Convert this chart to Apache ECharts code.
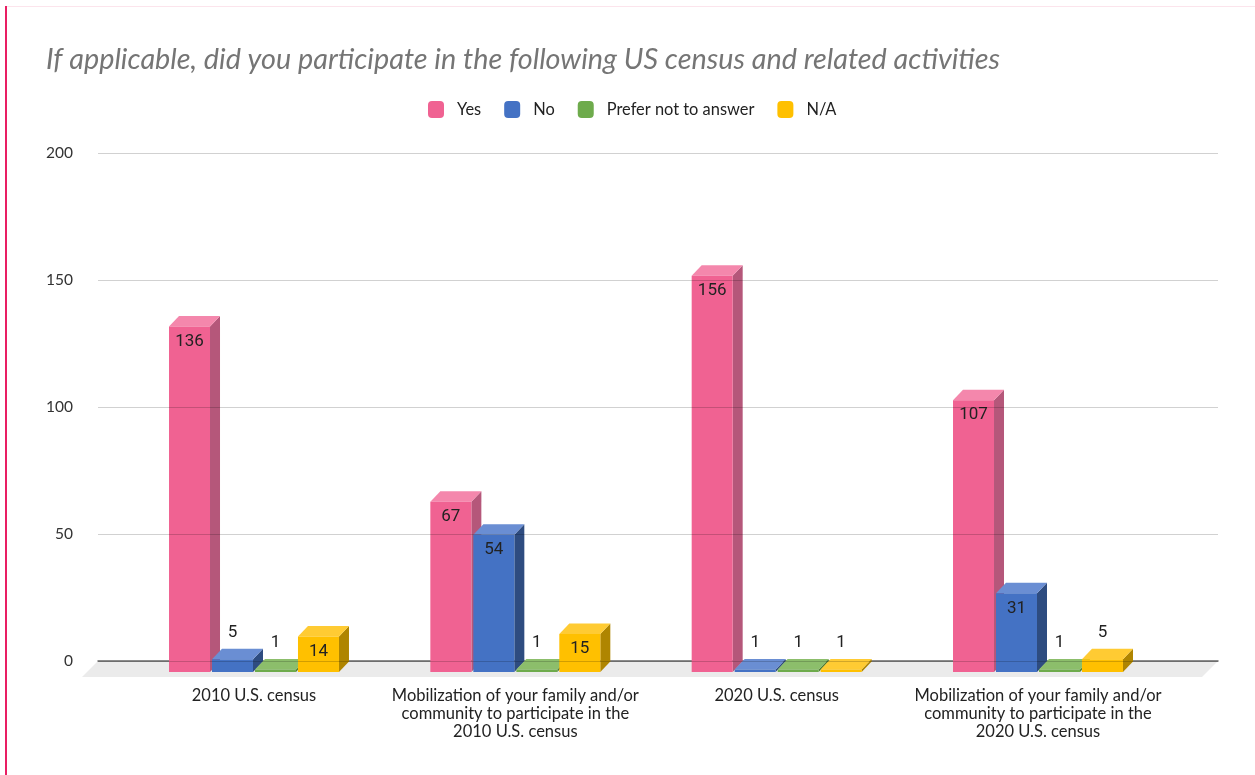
<!DOCTYPE html>
<html><head><meta charset="utf-8">
<script src="https://cdn.jsdelivr.net/npm/echarts@6/dist/echarts.min.js"></script>
<style>html,body{margin:0;padding:0;background:#fff}#c{width:1255px;height:775px}</style>
</head><body><div id="c"></div>
<script>
const categories = [
  '2010 U.S. census',
  'Mobilization of your family and/or\ncommunity to participate in the\n2010 U.S. census',
  '2020 U.S. census',
  'Mobilization of your family and/or\ncommunity to participate in the\n2020 U.S. census'
];
const seriesNames = ['Yes', 'No', 'Prefer not to answer', 'N/A'];
const yesValues = [136, 67, 156, 107];
const noValues = [5, 54, 1, 31];
const preferNotValues = [1, 1, 1, 1];
const naValues = [14, 15, 1, 5];
const yTickLabels = ['0', '50', '100', '150', '200'];

const palettes = [
  { front: '#F06292', top: '#F487AC', side: '#B5577A' },
  { front: '#4472C4', top: '#6A8ED3', side: '#2E4C80' },
  { front: '#6EAB4C', top: '#8CBE6B', side: '#4E7E33' },
  { front: '#FFC000', top: '#FFCB33', side: '#AF8500' }
];
const allValues = [yesValues, noValues, preferNotValues, naValues];

function makeRender(k, pal) {
  return function (params, api) {
    const i = api.value(0), v = api.value(1);
    const base = api.coord([i, 0]);
    const topP = api.coord([i, v]);
    const band = api.size([1, 0])[0];
    const w = band * 0.1569, stride = band * 0.1645;
    const groupW = 3 * stride + w;
    const x0 = base[0] - groupW / 2 + k * stride;
    const x1 = x0 + w;
    const yb = base[1], yt = topP[1];
    const dx = 10, dy = -10.5;
    const inside = (yb - yt) >= 28;
    return {
      type: 'group',
      children: [
        { type: 'polygon', shape: { points: [[x1, yt], [x1 + dx, yt + dy], [x1 + dx, yb + dy], [x1, yb]] }, style: { fill: pal.side } },
        { type: 'polygon', shape: { points: [[x0, yt], [x0 + dx, yt + dy], [x1 + dx, yt + dy], [x1, yt]] }, style: { fill: pal.top } },
        { type: 'rect', shape: { x: x0, y: yt, width: w, height: yb - yt }, style: { fill: pal.front } },
        { type: 'text', style: { text: String(v), x: (x0 + x1) / 2, y: inside ? yt + 15 : yt - 27, align: 'center', verticalAlign: 'middle', font: '17px Roboto', fill: '#222' } }
      ]
    };
  };
}

const chart = echarts.init(document.getElementById('c'), null, { renderer: 'canvas' });
const series = allValues.map((vals, k) => ({
  type: 'custom',
  name: seriesNames[k],
  xAxisIndex: 1,
  yAxisIndex: 1,
  z: 2,
  itemStyle: { color: palettes[k].front },
  renderItem: makeRender(k, palettes[k]),
  encode: { x: 0, y: 1 },
  data: vals.map((v, i) => [i, v])
}));

chart.setOption({
  animation: false,
  backgroundColor: '#fff',
  title: {
    text: 'If applicable, did you participate in the following US census and related activities',
    left: 41, top: 39,
    textStyle: { fontFamily: 'Lato', fontStyle: 'italic', fontWeight: 'normal', fontSize: 28.8, lineHeight: 32, color: '#757575' }
  },
  legend: {
    left: 423, top: 96,
    itemWidth: 16, itemHeight: 17, itemGap: 23,
    icon: 'roundRect',
    data: seriesNames,
    textStyle: { fontFamily: 'Lato', fontSize: 16.4, color: '#222', padding: [0, 0, 0, 8] }
  },
  graphic: [
    { type: 'polygon', z: -1, shape: { points: [[98, 661], [1218, 661], [1202, 677], [82, 677]] }, style: { fill: '#ebebeb' } },
    { type: 'rect', shape: { x: 5, y: 6, width: 2, height: 769 }, style: { fill: '#E91E63' } },
    { type: 'rect', shape: { x: 7, y: 6, width: 1248, height: 1 }, style: { fill: '#fce4ec' } }
  ],
  grid: [
    { left: 98, right: 37, top: 153, height: 508 },
    { left: 123.33, width: 1045.33, top: 164, height: 508 }
  ],
  xAxis: [
    { type: 'value', gridIndex: 0, min: 0, max: 1, z: 1,
      axisLine: { show: true, onZero: false, lineStyle: { color: '#666', width: 1.5 } },
      axisTick: { show: false }, axisLabel: { show: false }, splitLine: { show: false } },
    { type: 'category', gridIndex: 1, data: categories,
      axisLine: { show: false }, axisTick: { show: false },
      axisLabel: { interval: 0, margin: 14.5, fontFamily: 'Lato', fontSize: 16.5, lineHeight: 18, color: '#222' } }
  ],
  yAxis: [
    { type: 'value', gridIndex: 0, min: 0, max: 200, interval: 50, z: 5,
      axisLine: { show: false }, axisTick: { show: false },
      axisLabel: { margin: 25, fontFamily: 'Lato', fontSize: 15.5, color: '#333',
        formatter: (v) => yTickLabels[Math.round(v / 50)] },
      splitLine: { show: true, lineStyle: { color: 'rgba(0,0,0,0.18)', width: 1 } } },
    { type: 'value', gridIndex: 1, min: 0, max: 200, interval: 50, show: false, splitLine: { show: false } }
  ],
  series: series
});
</script>
</body></html>
